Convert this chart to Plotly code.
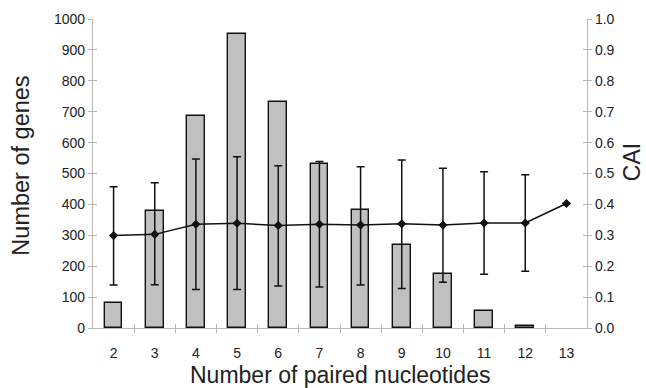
import plotly.graph_objects as go

paired = [2, 3, 4, 5, 6, 7, 8, 9, 10, 11, 12, 13]
genes = [80, 380, 685, 950, 730, 530, 382, 270, 175, 55, 8, None]
cai_mean = [0.299, 0.303, 0.336, 0.339, 0.332, 0.336, 0.333, 0.337, 0.333, 0.340, 0.340, 0.403]
cai_upper = [0.457, 0.470, 0.547, 0.554, 0.525, 0.539, 0.522, 0.544, 0.517, 0.506, 0.496, None]
cai_lower = [0.139, 0.140, 0.125, 0.125, 0.136, 0.133, 0.139, 0.128, 0.148, 0.174, 0.184, None]

err_plus = [(u - m) if u is not None else 0 for u, m in zip(cai_upper, cai_mean)]
err_minus = [(m - l) if l is not None else 0 for l, m in zip(cai_lower, cai_mean)]
boundaries = [p + 0.5 for p in paired[:-1]]

FONT = "Liberation Sans, Arial, sans-serif"
AXC = "#b8b8b8"
TXT = "#222222"

fig = go.Figure()
fig.add_trace(go.Bar(
    x=paired, y=genes, width=0.43,
    marker=dict(color="#c0c0c0", line=dict(color="#111111", width=1.4)),
    yaxis="y", xaxis="x", showlegend=False,
))
fig.add_trace(go.Scatter(
    x=paired, y=cai_mean, mode="lines+markers",
    line=dict(color="#111111", width=1.5),
    marker=dict(symbol="diamond", size=7, color="#111111"),
    error_y=dict(type="data", symmetric=False, array=err_plus, arrayminus=err_minus,
                 color="#111111", thickness=1.5, width=4),
    yaxis="y2", xaxis="x", showlegend=False,
))
# invisible helpers so the extra tick-mark axes are drawn
fig.add_trace(go.Scatter(x=[None], y=[None], xaxis="x2", yaxis="y3", showlegend=False, hoverinfo="skip"))
fig.add_trace(go.Scatter(x=[None], y=[None], xaxis="x3", yaxis="y4", showlegend=False, hoverinfo="skip"))

common_tick = dict(tickfont=dict(family=FONT, size=14, color=TXT))
tick_only = dict(showticklabels=False, showline=False, showgrid=False, zeroline=False,
                 tickcolor=AXC, tickwidth=1.2, ticklen=4, automargin=False)

fig.update_layout(
    width=646, height=388,
    margin=dict(l=93, r=59, t=19, b=60),
    paper_bgcolor="white", plot_bgcolor="white",
    font=dict(family=FONT, color=TXT),
    bargap=0,
    xaxis=dict(
        range=[1.5, 13.5], tickvals=paired, ticktext=[str(p) for p in paired],
        ticks="", showline=True, linecolor=AXC, linewidth=1.2,
        showgrid=False, zeroline=False, ticklabelstandoff=12, automargin=False,
        **common_tick,
    ),
    xaxis2=dict(overlaying="x", anchor="y3", side="bottom", range=[1.5, 13.5],
                tickvals=boundaries, ticks="outside", **tick_only),
    xaxis3=dict(overlaying="x", anchor="y4", side="bottom", range=[1.5, 13.5],
                tickvals=boundaries, ticks="inside", **tick_only),
    yaxis=dict(
        range=[0, 1000], dtick=100, ticks="outside", ticklen=4, tickcolor=AXC, tickwidth=1.2,
        showline=True, linecolor=AXC, linewidth=1.2, showgrid=False, zeroline=False,
        automargin=False, **common_tick,
    ),
    yaxis3=dict(overlaying="y", anchor="x2", side="left", range=[0, 1000], dtick=100,
                ticks="inside", **tick_only),
    yaxis2=dict(
        overlaying="y", side="right", anchor="x", range=[0, 1.0], dtick=0.1, tickformat=".1f",
        ticks="outside", ticklen=4, tickcolor=AXC, tickwidth=1.2,
        showline=True, linecolor=AXC, linewidth=1.2, showgrid=False, zeroline=False,
        automargin=False, **common_tick,
    ),
    yaxis4=dict(overlaying="y", anchor="x3", side="right", range=[0, 1.0], dtick=0.1,
                ticks="inside", **tick_only),
    annotations=[
        dict(text="Number of paired nucleotides", xref="paper", yref="paper", x=0.5, y=-0.152,
             xanchor="center", yanchor="middle", showarrow=False,
             font=dict(family=FONT, size=23, color=TXT)),
        dict(text="Number of genes", xref="paper", yref="paper", x=-0.146, y=0.525,
             xanchor="center", yanchor="middle", textangle=-90, showarrow=False,
             font=dict(family=FONT, size=23.5, color=TXT)),
        dict(text="CAI", xref="paper", yref="paper", x=1.09, y=0.538,
             xanchor="center", yanchor="middle", textangle=-90, showarrow=False,
             font=dict(family=FONT, size=23, color=TXT)),
    ],
)

fig.write_html("out.html")
